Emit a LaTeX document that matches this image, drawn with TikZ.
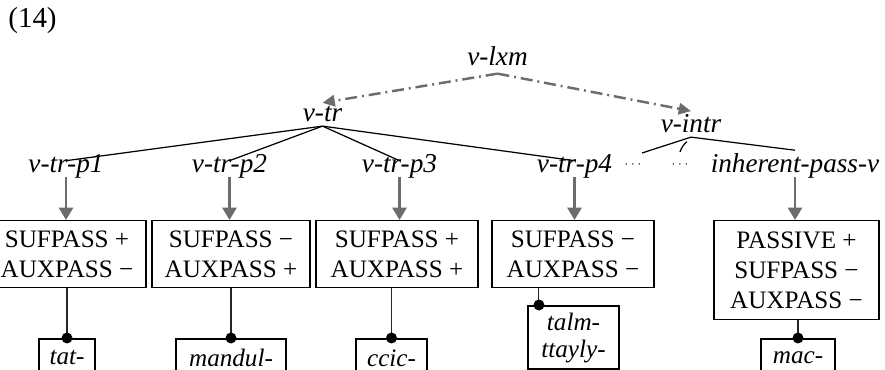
\documentclass[tikz,border=0pt]{standalone}
\usepackage{fontspec}
\setmainfont{Liberation Serif}
\usetikzlibrary{arrows.meta,positioning}
\definecolor{arrgray}{RGB}{108,108,108}

\begin{document}
\begin{tikzpicture}[
  x=1cm,y=1cm,
  lab/.style={font=\fontsize{15.5}{18}\selectfont\itshape, inner sep=2pt, anchor=base},
  feat/.style={draw, line width=0.7pt, anchor=north, align=center, font=\fontsize{14.3}{17}\selectfont, inner sep=2pt, minimum height=1.34cm},
  stem/.style={draw, line width=1.2pt, anchor=north, align=center, font=\fontsize{14.3}{15.4}\selectfont\itshape, inner sep=2pt, minimum height=0.76cm},
  tree/.style={line width=0.7pt},
  parr/.style={-{Triangle[length=7pt,width=8pt]}, line width=1.3pt, arrgray},
  darr/.style={-{Triangle[length=7pt,width=6.5pt]}, line width=1.4pt, arrgray, dash pattern=on 6.8pt off 2.8pt on 1.1pt off 2.8pt},
  link/.style={line width=0.6pt, black!85}
]
\useasboundingbox (0,0) rectangle (17.7,7.4);
\node[font=\fontsize{16.5}{20}\selectfont, anchor=base] (exnum) at (0.65,6.84) {(14)};
% type labels
\node[lab] (lxm) at (9.95,6.08) {v-lxm};
\node[lab] (vtr) at (6.45,4.96) {v-tr};
\node[lab] (vintr) at (13.82,4.74) {v-intr};
\node[lab] (p1) at (1.32,3.94) {v-tr-p1};
\node[lab] (p2) at (4.59,3.94) {v-tr-p2};
\node[lab] (p3) at (7.99,3.94) {v-tr-p3};
\node[lab] (p4) at (11.49,3.94) {v-tr-p4};
\node[lab] (ipv) at (15.9,3.94) {inherent-pass-v};
\node[font=\scriptsize] (dd1) at (12.66,4.1) {$\cdots$};
\node[font=\scriptsize] (dd2) at (13.6,4.1) {$\cdots$};
% feature boxes
\node[feat, minimum width=3.16cm] (b1) at (1.34,3.0) {SUFPASS +\\AUXPASS −};
\node[feat, minimum width=3.16cm] (b2) at (4.62,3.0) {SUFPASS −\\AUXPASS +};
\node[feat, minimum width=3.24cm] (b3) at (7.94,3.0) {SUFPASS +\\AUXPASS +};
\node[feat, minimum width=3.24cm] (b4) at (11.46,3.0) {SUFPASS −\\AUXPASS −};
\node[feat, minimum width=3.30cm, minimum height=1.98cm] (b5) at (15.93,3.0) {PASSIVE +\\SUFPASS −\\AUXPASS −};
% stems
\node[stem, minimum width=1.12cm] (tat) at (1.34,0.64) {tat-};
\node[stem, minimum width=2.2cm] (mandul) at (4.62,0.64) {mandul-};
\node[stem, minimum width=1.42cm] (ccic) at (7.83,0.64) {ccic-};
\node[stem, minimum width=1.82cm, minimum height=1.26cm] (talm) at (11.47,1.30) {talm-\\ttayly-};
\node[stem, minimum width=1.48cm] (mac) at (15.96,0.64) {mac-};
% hierarchy
\draw[darr] ([yshift=-2pt]lxm.south) -- (vtr.north);
\draw[darr] ([yshift=-2pt]lxm.south) -- (vintr.north);
\draw[tree] (vtr.south) -- ([yshift=7pt]p1.base);
\draw[tree] (vtr.south) -- ([yshift=7pt]p2.base);
\draw[tree] (vtr.south) -- ([yshift=7pt]p3.base);
\draw[tree] (vtr.south) -- ([yshift=7pt]p4.base);
\draw[tree] (vintr.south) -- ([shift={(0.18,0.24)}]dd1.center);
\draw[tree] (vintr.south) -- (ipv.north);
\coordinate (stub) at ([yshift=0.26cm]dd2.center);
\draw[tree] ([shift={(-0.08,-0.09)}]vintr.south) to[bend right=15] (stub);
% labels to features
\draw[parr] ([yshift=-2pt]p1.base) -- (p1 |- b1.north);
\draw[parr] ([yshift=-2pt]p2.base) -- (p2 |- b2.north);
\draw[parr] ([yshift=-2pt]p3.base) -- (p3 |- b3.north);
\draw[parr] ([yshift=-2pt]p4.base) -- (p4 |- b4.north);
\draw[parr] ([yshift=-2pt]ipv.base) -- (ipv |- b5.north);
% features to stems
\draw[link] (tat.north |- b1.south) -- (tat.north);
\fill (tat.north) circle (0.11);
\draw[link] (mandul.north |- b2.south) -- (mandul.north);
\fill (mandul.north) circle (0.11);
\draw[link] (ccic.north |- b3.south) -- (ccic.north);
\fill (ccic.north) circle (0.11);
\coordinate (tdot) at ([xshift=0.24cm]talm.north west);
\draw[link] (tdot |- b4.south) -- (tdot);
\fill (tdot) circle (0.11);
\draw[link] (mac.north |- b5.south) -- (mac.north);
\fill (mac.north) circle (0.11);
\end{tikzpicture}
\end{document}
